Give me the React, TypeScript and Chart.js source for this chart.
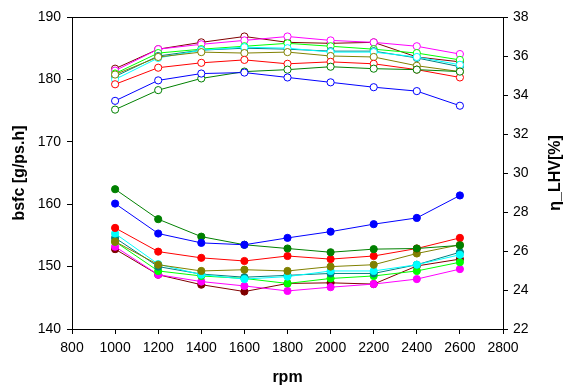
import React, { useEffect, useRef } from "react";
import { Chart, registerables } from "chart.js";

Chart.register(...registerables);

const rpm = [1000, 1200, 1400, 1600, 1800, 2000, 2200, 2400, 2600];

const seriesNames = ["blue", "darkgreen", "red", "olive", "cyan", "teal", "lime", "magenta", "maroon"];
const seriesColors = ["#0000FF", "#008000", "#FF0000", "#808000", "#00FFFF", "#008080", "#00FF00", "#FF00FF", "#800000"];

const bsfcBlue = [160.1, 155.3, 153.8, 153.5, 154.6, 155.6, 156.8, 157.8, 161.4];
const bsfcDarkGreen = [162.4, 157.6, 154.8, 153.5, 152.9, 152.3, 152.8, 152.9, 153.4];
const bsfcRed = [156.2, 152.4, 151.4, 150.9, 151.7, 151.2, 151.7, 152.9, 154.6];
const bsfcOlive = [154.0, 150.3, 149.3, 149.5, 149.3, 150.0, 150.3, 152.1, 153.5];
const bsfcCyan = [155.3, 150.4, 148.7, 148.0, 148.4, 149.3, 149.3, 150.3, 151.9];
const bsfcTeal = [154.6, 150.0, 148.8, 148.3, 148.6, 148.9, 148.9, 150.3, 152.3];
const bsfcLime = [154.0, 149.3, 148.5, 148.1, 147.3, 148.1, 148.5, 149.3, 150.7];
const bsfcMagenta = [153.2, 148.7, 147.6, 146.9, 146.1, 146.7, 147.2, 148.0, 149.6];
const bsfcMaroon = [152.8, 148.7, 147.1, 146.0, 147.3, 147.4, 147.2, 150.1, 151.2];

const etaBlue = [33.7, 34.75, 35.1, 35.15, 34.9, 34.65, 34.4, 34.2, 33.45];
const etaDarkGreen = [33.25, 34.25, 34.85, 35.2, 35.3, 35.45, 35.35, 35.3, 35.2];
const etaRed = [34.55, 35.4, 35.65, 35.8, 35.6, 35.7, 35.6, 35.3, 34.9];
const etaOlive = [35.05, 35.95, 36.2, 36.15, 36.2, 36.0, 35.95, 35.5, 35.2];
const etaCyan = [34.8, 35.9, 36.3, 36.45, 36.4, 36.2, 36.2, 35.95, 35.55];
const etaTeal = [34.95, 36.0, 36.3, 36.4, 36.35, 36.25, 36.25, 35.9, 35.45];
const etaLime = [35.1, 36.15, 36.35, 36.5, 36.65, 36.5, 36.35, 36.15, 35.8];
const etaMagenta = [35.25, 36.35, 36.6, 36.8, 37.0, 36.8, 36.7, 36.5, 36.1];
const etaMaroon = [35.35, 36.35, 36.7, 37.0, 36.7, 36.65, 36.7, 35.95, 35.7];

const bsfcSeries = [bsfcBlue, bsfcDarkGreen, bsfcRed, bsfcOlive, bsfcCyan, bsfcTeal, bsfcLime, bsfcMagenta, bsfcMaroon];
const etaSeries = [etaBlue, etaDarkGreen, etaRed, etaOlive, etaCyan, etaTeal, etaLime, etaMagenta, etaMaroon];

const xTitle = "rpm";
const yTitle = "bsfc [g/ps.h]";
const y1Title = "η_LHV[%]";

const FONT = "'Liberation Sans', Arial, Helvetica, sans-serif";

const titlePlugin = {
  id: "customTitles",
  afterDraw(chart: any) {
    const { ctx, chartArea } = chart;
    ctx.save();
    ctx.strokeStyle = "#000";
    ctx.lineWidth = 1;
    ctx.beginPath();
    ctx.moveTo(chartArea.left, chartArea.top + 0.5);
    ctx.lineTo(chartArea.right, chartArea.top + 0.5);
    ctx.stroke();

    ctx.fillStyle = "#000";
    ctx.font = `bold 16px ${FONT}`;
    ctx.textAlign = "center";
    ctx.textBaseline = "middle";
    const cy = (chartArea.top + chartArea.bottom) / 2;

    ctx.fillText(xTitle, (chartArea.left + chartArea.right) / 2, 378);

    ctx.save();
    ctx.translate(20, cy);
    ctx.rotate(-Math.PI / 2);
    ctx.fillText(yTitle, 0, 0);
    ctx.restore();

    ctx.save();
    ctx.translate(556, cy);
    ctx.rotate(-Math.PI / 2);
    ctx.fillText(y1Title, 0, 0);
    ctx.restore();

    ctx.restore();
  },
};

export default function App() {
  const ref = useRef<HTMLCanvasElement>(null);

  useEffect(() => {
    if (!ref.current) return;
    const datasets: any[] = [];
    seriesNames.forEach((name, i) => {
      const c = seriesColors[i];
      datasets.push({
        label: `bsfc ${name}`,
        data: rpm.map((x, j) => ({ x, y: bsfcSeries[i][j] })),
        yAxisID: "y",
        borderColor: c,
        backgroundColor: c,
        pointBackgroundColor: c,
        pointBorderColor: c,
        borderWidth: 1,
        pointRadius: 3.6,
        pointBorderWidth: 1,
      });
      datasets.push({
        label: `eta ${name}`,
        data: rpm.map((x, j) => ({ x, y: etaSeries[i][j] })),
        yAxisID: "y1",
        borderColor: c,
        backgroundColor: "#FFFFFF",
        pointBackgroundColor: "#FFFFFF",
        pointBorderColor: c,
        borderWidth: 1,
        pointRadius: 3.6,
        pointBorderWidth: 1,
      });
    });

    const tickFont = { family: FONT, size: 14 };
    const plain = (v: any) => String(v);
    const gridOpts = {
      display: true,
      drawOnChartArea: false,
      drawTicks: true,
      tickLength: 5,
      color: "#000",
      lineWidth: 1,
    };

    const chart = new Chart(ref.current, {
      type: "line",
      data: { datasets },
      options: {
        animation: false,
        responsive: false,
        events: [],
        layout: { padding: { top: 17, left: 0, right: 0, bottom: 0 } },
        plugins: { legend: { display: false }, tooltip: { enabled: false }, title: { display: false } },
        scales: {
          x: {
            type: "linear",
            min: 800,
            max: 2800,
            ticks: { stepSize: 200, color: "#000", font: tickFont, padding: 6, maxRotation: 0, autoSkip: false, callback: plain },
            grid: gridOpts,
            border: { display: true, color: "#000", width: 1 },
            afterFit: (s: any) => {
              s.height = 62;
            },
          },
          y: {
            type: "linear",
            position: "left",
            min: 140,
            max: 190,
            ticks: { stepSize: 10, color: "#000", font: tickFont, padding: 6, callback: plain },
            grid: gridOpts,
            border: { display: true, color: "#000", width: 1 },
            afterFit: (s: any) => {
              s.width = 72;
            },
          },
          y1: {
            type: "linear",
            position: "right",
            min: 22,
            max: 38,
            ticks: { stepSize: 2, color: "#000", font: tickFont, padding: 5, callback: plain },
            grid: gridOpts,
            border: { display: true, color: "#000", width: 1 },
            afterFit: (s: any) => {
              s.width = 66;
            },
          },
        },
      },
      plugins: [titlePlugin],
    });
    return () => chart.destroy();
  }, []);

  return (
    <div style={{ position: "absolute", left: 0, top: 0, width: 569, height: 391, background: "#fff" }}>
      <canvas ref={ref} width={569} height={391} style={{ display: "block", width: 569, height: 391 }} />
    </div>
  );
}
